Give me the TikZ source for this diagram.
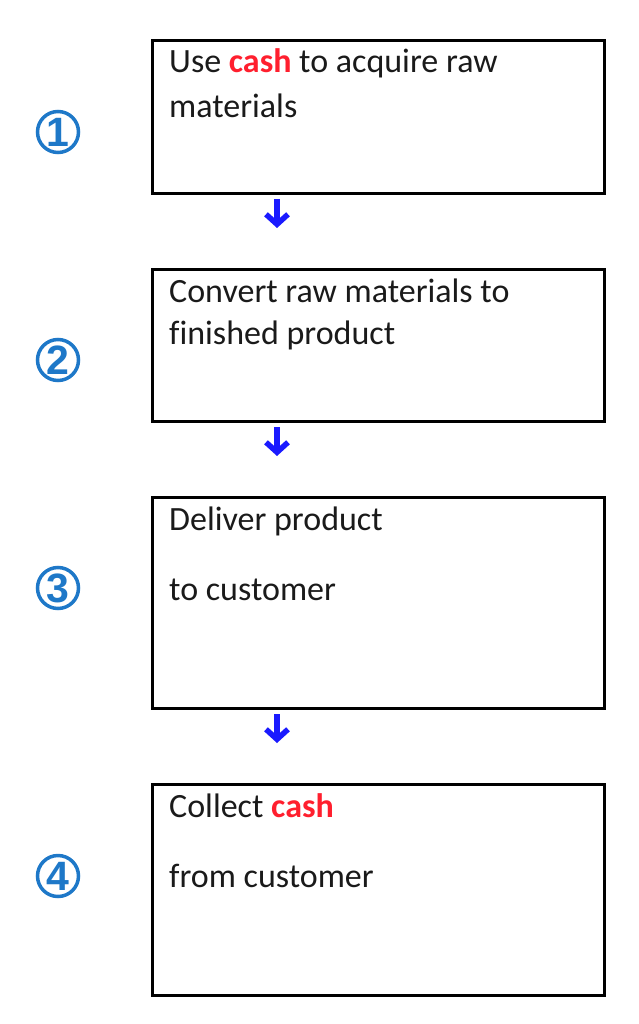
\documentclass[tikz,border=0pt]{standalone}
\usepackage{fontspec}
\setmainfont{Carlito}[Ligatures=CommonOff]
\newfontfamily\numfont{Liberation Sans}
\usetikzlibrary{arrows.meta}
\definecolor{txt}{HTML}{1A1A1A}
\definecolor{cashred}{HTML}{FF1F2E}
\definecolor{numblue}{HTML}{1E78C8}
\definecolor{arrblue}{HTML}{1A1AFF}
\tikzset{
  box/.style={draw=black, line width=3pt, minimum width=452pt, inner sep=0pt},
  line/.style={anchor=base west, inner sep=0pt, text=txt, font=\fontsize{34}{40}\selectfont},
  num/.style={circle, draw=numblue, line width=3.5pt, minimum size=41pt, inner sep=0pt,
    text=numblue, font=\numfont\bfseries\fontsize{41}{41}\selectfont},
  arr/.style={draw=arrblue, line width=5.5pt,
    -{Straight Barb[length=10pt,width=22pt,line width=5.5pt]}, shorten <=4pt, shorten >=40pt},
}
\newcommand{\cashw}{\textcolor{cashred}{\bfseries cash}}
\begin{document}
\begin{tikzpicture}[x=1pt,y=-1pt]
\useasboundingbox (0,0) rectangle (638,1024);
\node[box, minimum height=153pt] (b1) at (378.5,117) {};
\node[box, minimum height=152pt] (b2) at (378.5,345.5) {};
\node[box, minimum height=211pt] (b3) at (378.5,603) {};
\node[box, minimum height=211pt] (b4) at (378.5,890) {};
\node[line] (t1a) at (169,73) {Use \cashw{} to acquire raw};
\node[line] (t1b) at (169,118) {materials};
\node[line] (t2a) at (169,302) {Convert raw materials to};
\node[line] (t2b) at (169,344) {finished product};
\node[line] (t3a) at (169,530) {Deliver product};
\node[line] (t3b) at (169,600) {to customer};
\node[line] (t4a) at (169,817) {Collect \cashw};
\node[line] (t4b) at (169,887) {from customer};
\node[num] (n1) at (58,132) {1};
\node[num] (n2) at (58,360) {2};
\node[num] (n3) at (58,588) {3};
\node[num] (n4) at (58,876) {4};
\draw[arr] ([xshift=-101.5pt]b1.south) -- ([xshift=-101.5pt]b2.north);
\draw[arr] ([xshift=-101.5pt]b2.south) -- ([xshift=-101.5pt]b3.north);
\draw[arr] ([xshift=-101.5pt]b3.south) -- ([xshift=-101.5pt]b4.north);
\end{tikzpicture}
\end{document}
